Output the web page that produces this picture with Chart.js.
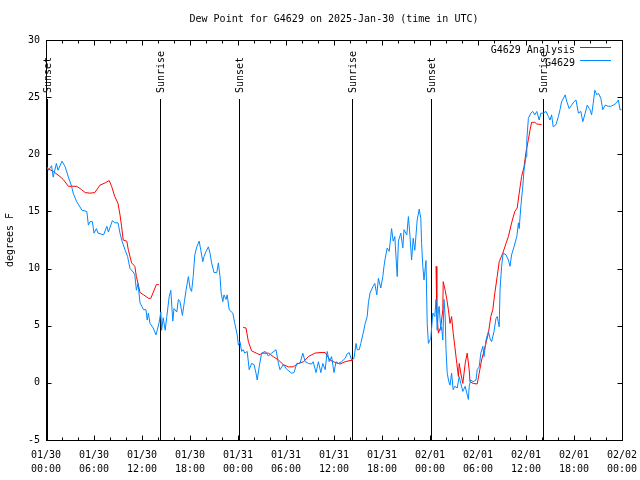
<!DOCTYPE html>
<html>
<head>
<meta charset="utf-8">
<script src="https://cdn.jsdelivr.net/npm/chart.js@4"></script>
<style>html,body{margin:0;background:#fff}</style>
</head>
<body>
<canvas id="dew" width="640" height="480"></canvas>
<script>
// dew point chart, G4629

const FONT = '"DejaVu Sans Mono", "Liberation Mono", monospace';
const dayStart = Date.UTC(2025, 0, 30);

// hours since 01/30 00:00 UTC, dew point (F)
const obsSeries = [
  [0.1,18.9],[0.3,18.6],[0.7,19.0],[0.9,18.0],[1.3,19.2],[1.5,18.6],[2.0,19.4],[2.4,18.9],
  [2.8,18.0],[3.2,17.2],[3.4,16.6],[3.8,15.9],[4.5,15.1],[5.1,15.0],[5.3,13.8],[5.5,14.1],
  [5.8,14.1],[6.0,13.1],[6.3,13.5],[6.5,13.1],[7.2,12.95],[7.6,13.7],[7.8,13.2],[8.3,14.2],
  [8.6,14.0],[9.0,14.0],[9.25,13.1],[9.5,12.4],[9.9,11.6],[10.2,11.05],[10.5,10.0],[10.9,9.7],
  [11.1,9.45],[11.3,8.1],[11.5,8.7],[11.75,7.0],[12.2,6.4],[12.5,6.4],[12.65,5.5],[12.8,6.1],
  [13.0,5.2],[13.4,4.8],[13.75,4.2],[13.9,4.6],[14.15,5.3],[14.35,6.2],[14.45,4.6],[14.65,5.7],
  [14.9,4.6],[15.1,5.8],[15.4,7.55],[15.6,8.1],[15.85,5.4],[16.0,6.5],[16.35,6.2],[16.55,7.3],
  [16.75,7.1],[17.05,5.9],[17.3,7.1],[17.5,8.1],[17.8,9.3],[18.0,8.3],[18.2,8.0],[18.4,9.3],
  [18.6,11.2],[18.85,11.9],[19.15,12.4],[19.35,11.6],[19.6,10.6],[19.75,11.05],[20.0,11.5],[20.3,11.9],
  [20.5,11.35],[20.7,10.5],[21.0,9.65],[21.35,9.65],[21.55,10.5],[21.75,9.3],[21.9,7.85],[22.1,7.1],
  [22.25,7.7],[22.5,7.3],[22.65,7.7],[22.9,6.4],[23.35,6.1],[23.6,5.2],[23.9,4.2],[24.05,3.3],
  [24.25,3.6],[24.45,2.75],[24.65,2.9],[24.85,2.6],[25.15,2.75],[25.4,1.15],[25.7,1.7],[26.0,1.6],
  [26.25,0.85],[26.4,0.25],[26.65,1.4],[26.95,2.6],[27.4,2.75],[27.8,2.35],[28.2,2.6],[28.75,2.9],
  [29.05,1.7],[29.25,1.15],[29.65,1.6],[30.15,1.15],[30.7,0.85],[31.0,0.9],[31.35,1.7],[31.75,1.7],
  [32.1,2.6],[32.4,1.85],[32.8,1.7],[33.2,1.65],[33.4,1.85],[33.75,0.9],[34.05,1.85],[34.35,0.9],
  [34.6,1.7],[34.9,1.15],[35.15,2.75],[35.4,1.85],[35.7,2.3],[36.0,0.9],[36.25,1.85],[36.55,1.7],
  [36.95,1.85],[37.4,2.15],[37.65,2.55],[37.9,2.65],[38.2,2.0],[38.5,2.15],[38.75,3.45],[38.9,2.9],
  [39.15,2.9],[39.35,3.45],[39.65,4.35],[39.9,5.2],[40.15,5.8],[40.3,7.0],[40.5,7.85],[40.85,8.4],
  [41.1,8.7],[41.35,7.7],[41.55,9.15],[41.85,8.3],[42.1,9.3],[42.25,10.2],[42.4,10.9],[42.65,11.8],
  [42.9,11.5],[43.2,13.5],[43.4,12.4],[43.6,12.8],[43.9,9.3],[44.05,12.4],[44.35,13.1],[44.6,11.8],
  [44.75,13.4],[45.1,12.95],[45.3,14.55],[45.5,12.8],[45.7,10.75],[45.9,12.65],[46.1,11.6],[46.4,14.25],
  [46.65,15.2],[46.85,14.4],[46.95,12.2],[47.1,10.2],[47.25,9.0],[47.5,10.7],[47.65,5.2],[47.8,3.45],
  [48.1,3.9],[48.35,6.1],[48.6,5.8],[48.75,7.3],[48.9,4.6],[49.05,6.4],[49.15,6.7],[49.35,4.6],
  [49.45,4.9],[49.6,3.75],[49.75,7.3],[49.9,5.8],[50.0,2.9],[50.15,0.85],[50.35,0.1],[50.5,-0.2],
  [50.7,0.85],[50.9,-0.6],[51.1,-0.3],[51.4,-0.45],[51.65,0.55],[51.85,-0.05],[52.1,-0.75],[52.4,-0.3],
  [52.6,-0.9],[52.8,-1.45],[52.9,-0.3],[53.1,0.25],[53.4,0.1],[53.75,0.25],[53.9,1.15],[54.15,1.4],
  [54.35,2.6],[54.6,3.2],[54.75,2.3],[55.0,3.75],[55.3,4.5],[55.5,3.9],[55.7,3.6],[56.0,4.5],
  [56.25,5.65],[56.4,5.8],[56.65,4.9],[56.75,8.1],[56.95,10.2],[57.15,11.35],[57.5,11.2],[57.8,10.75],
  [58.0,10.2],[58.2,11.2],[58.5,11.9],[58.85,12.8],[59.05,14.0],[59.15,13.5],[59.35,15.4],[59.6,17.2],
  [59.75,18.6],[60.0,19.8],[60.1,21.3],[60.3,23.15],[60.6,23.6],[60.85,23.75],[61.1,23.45],[61.35,23.75],
  [61.65,23.0],[61.85,23.6],[62.15,23.6],[62.5,23.75],[62.8,23.3],[63.0,23.0],[63.2,23.45],[63.4,22.4],
  [63.75,22.6],[64.05,23.3],[64.25,23.9],[64.45,24.6],[64.9,25.2],[65.1,24.6],[65.4,24.0],[65.7,24.3],
  [66.0,24.6],[66.25,24.75],[66.55,23.6],[66.85,23.75],[67.1,22.85],[67.4,23.6],[67.65,24.3],[68.0,23.9],
  [68.2,23.45],[68.4,24.45],[68.6,25.6],[68.85,25.2],[69.05,25.35],[69.35,24.9],[69.6,23.9],[69.9,24.3],
  [70.3,24.2],[70.6,24.2],[70.9,24.3],[71.25,24.45],[71.55,24.75],[71.75,23.9],[71.95,23.9]
];

// analysis, with gaps in the daytime
const analysisSeries = [
  [0.1,18.8],[0.9,18.5],[1.75,18.05],[2.15,17.8],[2.8,17.2],[3.85,17.2],[4.45,16.9],[4.9,16.65],
  [5.5,16.6],[6.1,16.65],[6.75,17.3],[7.4,17.5],[7.9,17.7],[8.2,17.2],[8.6,16.3],[9.0,15.7],
  [9.25,14.7],[9.45,13.7],[9.65,12.5],[10.1,12.4],[10.3,11.6],[10.7,10.5],[11.1,10.2],[11.3,9.3],
  [11.5,8.7],[11.75,7.9],[12.2,7.7],[12.8,7.4],[13.1,7.4],[13.8,8.6],[14.1,8.6],
  [19,null],
  [24.65,4.85],[25.0,4.8],[25.3,3.6],[25.7,2.8],[26.3,2.6],[26.75,2.45],[26.95,2.6],[27.8,2.6],
  [28.4,2.3],[29.05,2.0],[29.65,1.6],[30.3,1.4],[30.9,1.4],[31.55,1.7],[32.2,1.85],[32.8,2.3],
  [33.6,2.6],[34.25,2.65],[34.9,2.65],[35.5,2.0],[36.1,1.8],[36.75,1.65],[37.4,1.85],[38.0,1.95],
  [38.35,1.95],
  [43,null],
  [48.75,10.2],[48.85,6.1],[49.05,4.35],[49.35,4.9],[49.6,6.4],[49.65,8.85],[49.9,8.1],[50.1,7.3],
  [50.3,6.4],[50.5,5.2],[50.7,5.8],[50.9,4.35],[51.1,3.2],[51.35,1.7],[51.55,0.55],[51.65,1.7],
  [51.85,0.85],[52.1,-0.05],[52.4,1.7],[52.65,2.6],[52.9,1.15],[53.0,0.1],[53.4,-0.05],[53.9,-0.1],
  [54.15,0.85],[54.45,2.0],[54.9,3.2],[55.3,4.35],[55.6,5.8],[55.85,6.4],[56.1,7.85],[56.4,9.3],
  [56.65,10.6],[57.1,11.35],[57.5,12.2],[57.8,12.8],[58.2,14.0],[58.6,15.0],[58.9,15.3],[59.15,16.6],
  [59.45,18.05],[59.75,18.9],[60.0,20.2],[60.3,21.3],[60.5,22.1],[60.7,22.8],[61.1,22.8],[61.35,22.65],
  [61.95,22.6]
];

const sunHours  = [0.1, 14.3, 24.15, 38.3, 48.15, 62.15];
const sunLabels = ['Sunset', 'Sunrise', 'Sunset', 'Sunrise', 'Sunset', 'Sunrise'];

const seriesNames  = ['G4629 Analysis', 'G4629'];
const seriesColors = ['#ff0000', '#0088ff'];

const xMajor = 6, xMinor = 2;
const yTicks = [-5, 0, 5, 10, 15, 20, 25, 30];

function tickLabel(h) {
  const d = new Date(dayStart + h * 3600000);
  const p = n => String(n).padStart(2, '0');
  return [`${p(d.getUTCMonth() + 1)}/${p(d.getUTCDate())}`, `${p(d.getUTCHours())}:${p(d.getUTCMinutes())}`];
}

const toXY = s => s.map(p => ({ x: p[0], y: p[1] }));

// gnuplot-like frame: border, inward ticks, sun lines, legend
const frame = {
  id: 'frame',
  beforeDatasetsDraw(chart) {
    const { ctx, chartArea: a, scales: { x } } = chart;
    ctx.save();
    ctx.strokeStyle = '#000';
    ctx.lineWidth = 1;
    sunHours.forEach(h => {
      const px = Math.round(x.getPixelForValue(h)) + 0.5;
      ctx.beginPath();
      ctx.moveTo(px, a.top + 59);
      ctx.lineTo(px, a.bottom);
      ctx.stroke();
    });
    ctx.restore();
  },
  afterDatasetsDraw(chart) {
    const { ctx, chartArea: a, scales: { x, y } } = chart;
    ctx.save();
    ctx.strokeStyle = '#000';
    ctx.lineWidth = 1;
    const L = Math.round(a.left) + 0.5, R = Math.round(a.right) + 0.5;
    const T = Math.round(a.top) + 0.5, B = Math.round(a.bottom) + 0.5;
    ctx.strokeRect(L, T, R - L, B - T);

    ctx.beginPath();
    for (let h = 0; h <= 72; h += xMinor) {
      const px = Math.round(x.getPixelForValue(h)) + 0.5;
      const len = h % xMajor === 0 ? 5 : 3;
      ctx.moveTo(px, B); ctx.lineTo(px, B - len);
      ctx.moveTo(px, T); ctx.lineTo(px, T + len);
    }
    yTicks.forEach(v => {
      const py = Math.round(y.getPixelForValue(v)) + 0.5;
      ctx.moveTo(L, py); ctx.lineTo(L + 5, py);
      ctx.moveTo(R, py); ctx.lineTo(R - 5, py);
    });
    ctx.stroke();

    // sunrise / sunset labels
    ctx.fillStyle = '#000';
    ctx.font = '10px ' + FONT;
    ctx.textBaseline = 'middle';
    ctx.textAlign = 'left';
    sunHours.forEach((h, i) => {
      const px = Math.round(x.getPixelForValue(h)) + 1;
      ctx.save();
      ctx.translate(px, a.top + 53);
      ctx.rotate(-Math.PI / 2);
      ctx.fillText(sunLabels[i], 0, 0);
      ctx.restore();
    });

    // legend
    ctx.textAlign = 'right';
    seriesNames.forEach((name, i) => {
      const ly = a.top + 10 + i * 13;
      ctx.fillStyle = '#000';
      ctx.fillText(name, a.right - 47, ly);
      ctx.fillStyle = seriesColors[i];
      ctx.fillRect(Math.round(a.right) - 42, Math.round(ly) - 3, 31, 1);
    });
    ctx.restore();
  }
};

new Chart(document.getElementById('dew'), {
  type: 'line',
  data: {
    datasets: [
      { label: seriesNames[0], data: toXY(analysisSeries), borderColor: seriesColors[0], borderWidth: 1,
        pointRadius: 0, tension: 0, spanGaps: false, order: 1 },
      { label: seriesNames[1], data: toXY(obsSeries), borderColor: seriesColors[1], borderWidth: 1,
        pointRadius: 0, tension: 0, order: 0 }
    ]
  },
  options: {
    responsive: false,
    animation: false,
    devicePixelRatio: 1,
    layout: { padding: { left: 0, right: 18, top: 0, bottom: 0 } },
    plugins: {
      legend: { display: false },
      tooltip: { enabled: false },
      title: {
        display: true,
        fullSize: false,
        text: 'Dew Point for G4629 on 2025-Jan-30 (time in UTC)',
        color: '#000',
        font: { family: FONT, size: 10, weight: 'normal' },
        padding: { top: 13, bottom: 15 }
      }
    },
    scales: {
      x: {
        type: 'linear', min: 0, max: 72,
        grid: { display: false, drawTicks: false },
        border: { display: false },
        ticks: {
          stepSize: xMajor, autoSkip: false, maxRotation: 0, color: '#000', padding: 9,
          font: { family: FONT, size: 10, lineHeight: 1.35 },
          callback: v => tickLabel(v)
        },
        afterFit: s => { s.height = 40; s.paddingLeft = 0; s.paddingRight = 0; }
      },
      y: {
        min: -5, max: 30,
        grid: { display: false, drawTicks: false },
        border: { display: false },
        ticks: { stepSize: 5, color: '#000', padding: 6, font: { family: FONT, size: 10 } },
        title: {
          display: true, text: 'degrees F', color: '#000',
          font: { family: FONT, size: 10 }, padding: { top: 4, bottom: 0 }
        },
        afterFit: s => { s.width = 46; s.paddingTop = 0; s.paddingBottom = 0; }
      }
    }
  },
  plugins: [frame]
});
</script>
</body>
</html>
